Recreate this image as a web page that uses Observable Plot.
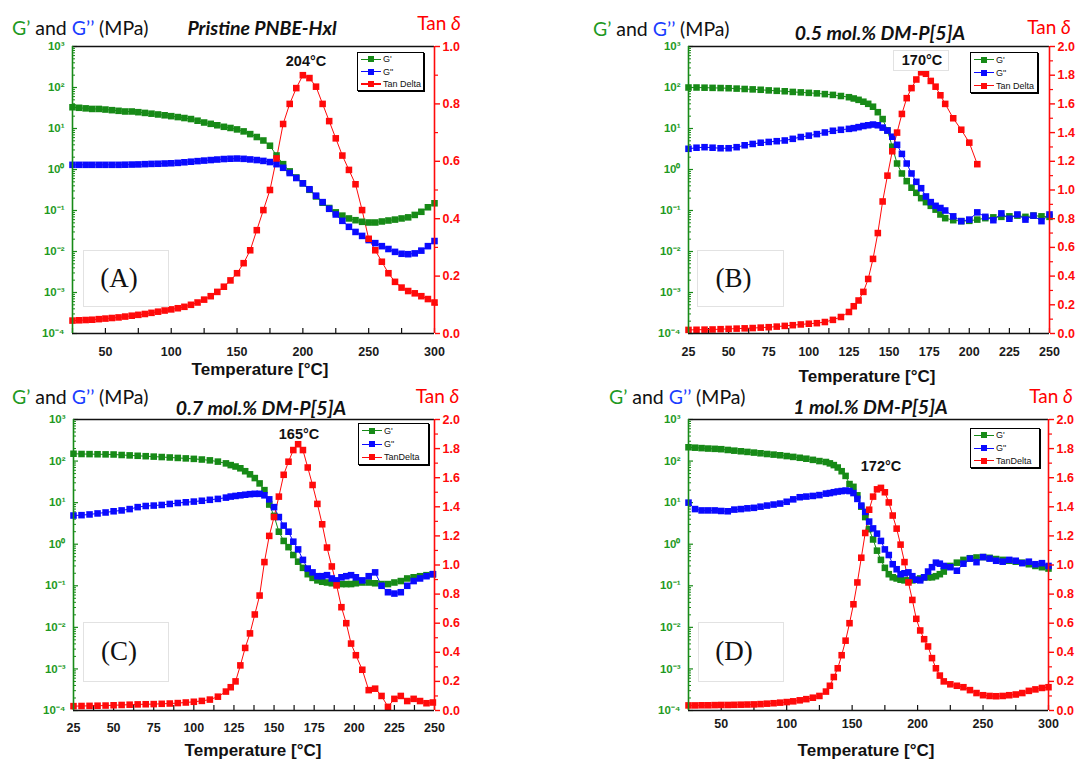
<!DOCTYPE html>
<html><head><meta charset="utf-8">
<script src="https://cdn.jsdelivr.net/npm/d3@7"></script>
<script src="https://cdn.jsdelivr.net/npm/@observablehq/plot@0.6"></script>
<style>
body{margin:0;background:#fff;}
#fig{position:relative;width:1077px;height:761px;overflow:hidden;background:#fff;font-family:"Liberation Sans",Arial,sans-serif;color:#111;}
.abs{position:absolute;white-space:nowrap;line-height:1;}
.hdr{font-family:Lato,"Open Sans",sans-serif;font-size:19.5px;}
.ttl{font-family:Lato,"Open Sans",sans-serif;font-weight:bold;font-style:italic;font-size:19.5px;}
.tan{font-family:Lato,"Open Sans",sans-serif;font-size:19px;color:#ff0000;}
.xl{font-weight:bold;font-size:17px;}
.pk{font-weight:bold;font-size:14.5px;}
.lab{font-family:"Liberation Serif","Times New Roman",serif;font-size:27px;}
.box{position:absolute;border:1px solid #e2e2e2;}
.leg{position:absolute;border:1px solid #000;box-shadow:1px 1px 0 #000;background:#fff;font-size:9px;font-family:"Liberation Sans",Arial,sans-serif;}
</style></head><body><div id="fig"></div>
<script>
// ---------- DATA ----------
// Panel A: Pristine PNBE-Hxl
const A_T = [25,30,35,40,45,50,55,60,65,70,75,80,85,90,95,100,105,110,115,120,125,130,135,140,145,150,155,160,165,170,175,180,185,190,195,200,205,210,215,220,225,230,235,240,245,250,255,260,265,270,275,280,285,290,295,300];
const A_G1 = [33,32,31,30,30,29,28,27,26,26,25,24,23,22,21,20,19,18,17,15.5,14,13,12,11,10.3,9.5,8.5,7.3,6.2,5.1,3.8,2.2,1.35,0.9,0.64,0.46,0.32,0.22,0.155,0.115,0.09,0.075,0.064,0.058,0.053,0.051,0.051,0.054,0.057,0.06,0.064,0.068,0.078,0.093,0.12,0.15];
const A_G2 = [1.3,1.3,1.3,1.3,1.3,1.3,1.3,1.3,1.31,1.32,1.33,1.35,1.37,1.38,1.4,1.42,1.45,1.5,1.55,1.6,1.65,1.7,1.75,1.8,1.83,1.85,1.82,1.76,1.7,1.62,1.52,1.35,1.1,0.82,0.62,0.46,0.33,0.23,0.16,0.11,0.08,0.056,0.04,0.03,0.024,0.019,0.016,0.0135,0.0115,0.0098,0.0088,0.0086,0.009,0.0105,0.0135,0.018];
const A_tan = [0.045,0.046,0.047,0.048,0.05,0.052,0.054,0.056,0.059,0.062,0.065,0.068,0.072,0.076,0.08,0.084,0.088,0.093,0.1,0.108,0.118,0.13,0.145,0.163,0.185,0.21,0.245,0.29,0.36,0.43,0.5,0.61,0.73,0.8,0.855,0.9,0.89,0.86,0.8,0.74,0.68,0.62,0.57,0.52,0.43,0.33,0.29,0.25,0.21,0.18,0.16,0.148,0.14,0.13,0.12,0.108];

// Panel B: 0.5 mol.% DM-P[5]A
const B_T = [25,30,35,40,45,50,55,60,65,70,75,80,85,90,95,100,105,110,115,120,125,128,131,134,137,140,143,146,149,152,155,158,161,164,167,170,173,176,179,182,185,190,195,200,205,210,215,220,225,230,235,240,245,250];
const B_G1 = [100,100,99,98,97,96,94,92,90,88,85,83,81,78,76,74,72,69,66,62,58,54,50,45,40,34,25,17,9,3.6,1.4,0.8,0.52,0.36,0.27,0.2,0.16,0.13,0.105,0.08,0.065,0.058,0.055,0.056,0.06,0.065,0.068,0.07,0.072,0.075,0.07,0.075,0.072,0.07];
const B_G2 = [3.2,3.4,3.5,3.4,3.3,3.3,3.5,3.9,4.2,4.5,4.7,4.9,5.1,5.6,6.2,6.7,7.3,8,8.8,9.3,9.8,10.2,10.8,11.5,12,12.5,12,10.5,8.9,6.3,4,2.4,1.4,0.8,0.5,0.35,0.22,0.16,0.13,0.115,0.1,0.072,0.055,0.06,0.09,0.07,0.058,0.085,0.063,0.08,0.06,0.075,0.055,0.08];
const B_tan = [0.025,0.026,0.027,0.028,0.03,0.032,0.034,0.036,0.038,0.041,0.044,0.048,0.053,0.058,0.063,0.068,0.072,0.08,0.095,0.115,0.15,0.19,0.23,0.29,0.38,0.52,0.7,0.92,1.1,1.27,1.4,1.53,1.64,1.71,1.77,1.82,1.81,1.76,1.72,1.66,1.6,1.5,1.42,1.33,1.18,null,null,null,null,null,null,null,null,null];

// Panel C: 0.7 mol.% DM-P[5]A
const C_T = [25,30,35,40,45,50,55,60,65,70,75,80,85,90,95,100,105,110,115,120,123,126,129,132,135,138,141,144,147,150,153,156,159,162,165,168,171,174,177,180,183,186,189,192,195,198,201,205,209,213,217,221,225,229,233,237,241,245,249];
const C_G1 = [150,148,147,146,145,144,140,137,134,131,128,125,122,119,116,113,109,104,97,88,80,74,67,57,48,39,29,20,9,4.8,2,1.2,0.85,0.55,0.38,0.27,0.19,0.155,0.135,0.125,0.12,0.115,0.11,0.11,0.11,0.11,0.115,0.12,0.12,0.115,0.11,0.11,0.12,0.13,0.15,0.16,0.17,0.18,0.19];
const C_G2 = [4.9,5,5.2,5.5,5.8,6.2,6.5,7,7.8,8.3,8.5,8.8,9.3,9.8,10.2,10.6,11.1,11.7,12.3,13.2,14,14.5,15,15.5,16,16.3,16.3,15,12,7.8,4.5,2.8,2,1.15,0.75,0.42,0.26,0.21,0.17,0.17,0.18,0.15,0.135,0.16,0.17,0.18,0.16,0.135,0.17,0.21,0.1,0.07,0.065,0.07,0.1,0.13,0.15,0.17,0.19];
const C_tan = [0.03,0.031,0.032,0.033,0.034,0.036,0.038,0.04,0.042,0.043,0.044,0.046,0.048,0.051,0.055,0.06,0.066,0.075,0.095,0.13,0.16,0.2,0.31,0.43,0.53,0.66,0.79,1.02,1.2,1.33,1.47,1.62,1.71,1.79,1.83,1.79,1.67,1.55,1.42,1.28,1.12,0.99,0.86,0.71,0.6,0.46,0.38,0.28,0.14,0.15,0.1,0.025,0.08,0.1,0.065,0.08,0.065,0.05,0.055];

// Panel D: 1 mol.% DM-P[5]A
const D_T = [25,30,35,40,45,50,55,60,65,70,75,80,85,90,95,100,105,110,115,120,125,130,133,136,139,142,145,148,151,154,157,160,163,166,169,172,175,178,181,184,187,190,193,196,199,202,205,208,211,214,217,220,225,230,235,240,245,250,255,260,265,270,275,280,285,290,295,300];
const D_G1 = [215,210,205,200,197,193,185,178,172,166,160,154,148,143,138,132,126,120,114,107,100,95,88,80,70,57,44,28,24,15,8,4.5,2.3,1.3,0.7,0.42,0.27,0.19,0.16,0.15,0.14,0.135,0.135,0.135,0.14,0.15,0.16,0.16,0.16,0.17,0.19,0.22,0.3,0.36,0.42,0.46,0.48,0.49,0.47,0.44,0.42,0.4,0.38,0.36,0.33,0.3,0.28,0.26];
const D_G2 = [10,7,6.5,6.5,6.5,6.3,6.2,6.8,7,7.3,7.5,8,8.5,9,9.5,10.5,12,13.5,14,14.5,15.2,16.5,17,17.8,18.5,19,19.5,19,17,12.3,8.5,6,3.5,2.4,1.8,1.2,0.75,0.55,0.33,0.25,0.19,0.2,0.21,0.17,0.14,0.135,0.16,0.22,0.28,0.36,0.34,0.3,0.28,0.23,0.34,0.45,0.37,0.49,0.45,0.4,0.38,0.42,0.4,0.35,0.38,0.33,0.35,0.3];
const D_tan = [0.035,0.035,0.036,0.036,0.037,0.038,0.038,0.039,0.04,0.041,0.042,0.044,0.047,0.05,0.054,0.058,0.063,0.07,0.078,0.088,0.1,0.13,0.17,0.23,0.29,0.38,0.48,0.6,0.73,0.88,1.05,1.22,1.38,1.47,1.52,1.53,1.5,1.43,1.34,1.25,1.14,1.02,0.88,0.76,0.63,0.55,0.49,0.44,0.36,0.29,0.24,0.2,0.18,0.17,0.16,0.14,0.12,0.105,0.1,0.098,0.1,0.105,0.11,0.12,0.135,0.145,0.155,0.16];

// Tick values
const logExponents = [-4,-3,-2,-1,0,1,2,3];
const tanTicks1 = [0,0.2,0.4,0.6,0.8,1.0];
const tanTicks2 = [0,0.2,0.4,0.6,0.8,1.0,1.2,1.4,1.6,1.8,2.0];
const xTicks300 = [50,100,150,200,250,300];
const xTicks250 = [25,50,75,100,125,150,175,200,225,250];

const titles = ["Pristine PNBE-Hxl","0.5 mol.% DM-P[5]A","0.7 mol.% DM-P[5]A","1 mol.% DM-P[5]A"];
const peaks = ["204°C","170°C","165°C","172°C"];
const panelLetters = ["(A)","(B)","(C)","(D)"];
const legendLabels = [["G'","G\"","Tan Delta"],["G'","G\"","Tan Delta"],["G'","G\"","TanDelta"],["G'","G\"","TanDelta"]];

// ---------- STYLE / LAYOUT ----------
const GREEN = "#178a17", GREEN_T = "#1f9a1f", BLUE = "#0a0aff", RED = "#ff0a0a";
const fig = document.getElementById("fig");

const cfg = [
  {T:A_T,g1:A_G1,g2:A_G2,tan:A_tan,xd:[25,300],xl:xTicks300,xstep:25,tmax:1,tt:tanTicks1,
   box:{left:0,top:0,w:540,h:380},m:{l:72,r:106,t:46,b:47},xpad:14,
   hdr:[12,28],ttl:[262,28],tanL:[439,22],xlab:[260,369],pk:[306,61],lab:[83,250,84,55],leg:[357,52,65,37]},
  {T:B_T,g1:B_G1,g2:B_G2,tan:B_tan,xd:[25,250],xl:xTicks250,xstep:12.5,tmax:2,tt:tanTicks2,
   box:{left:540,top:0,w:537,h:380},m:{l:148,r:28,t:46,b:47},xpad:14,
   hdr:[593,28.5],ttl:[880,32.5],tanL:[1049,26],xlab:[867,376],pk:[922,60],lab:[697,250,85,55],leg:[970,52,66,39],pkbox:[893,50,54,19]},
  {T:C_T,g1:C_G1,g2:C_G2,tan:C_tan,xd:[25,250],xl:xTicks250,xstep:12.5,tmax:2,tt:tanTicks2,
   box:{left:0,top:380,w:540,h:381},m:{l:73,r:106,t:39,b:51},xpad:13,
   hdr:[12,396.5],ttl:[261,407.5],tanL:[437.5,394.5],xlab:[253,749.5],pk:[299,434],lab:[83,622,84,58],leg:[358,423,69,40]},
  {T:D_T,g1:D_G1,g2:D_G2,tan:D_tan,xd:[25,300],xl:xTicks300,xstep:25,tmax:2,tt:tanTicks2,
   box:{left:540,top:380,w:537,h:381},m:{l:148,r:29,t:39,b:51},xpad:9,
   hdr:[609,396.5],ttl:[870.5,406.5],tanL:[1051,395],xlab:[866,749.5],pk:[881,466],lab:[698,622,84,58],leg:[970,428,68,38]}
];

const SUP = {"-":"⁻","0":"⁰","1":"¹","2":"²","3":"³","4":"⁴","5":"⁵"};
const supFmt = e => "10" + String(Math.round(e)).split("").map(c => SUP[c]).join("");

function put(html, x, y, cls, anchor) {
  const d = document.createElement("div");
  d.className = "abs " + cls;
  d.innerHTML = html;
  d.style.left = x + "px";
  d.style.top = y + "px";
  const tx = anchor === "l" ? "0" : anchor === "r" ? "-100%" : "-50%";
  d.style.transform = `translate(${tx},-50%)`;
  fig.appendChild(d);
  return d;
}

cfg.forEach((c, i) => {
  // y scale is the decade exponent (log10 of modulus, MPa); tan δ is mapped onto the same span
  const tanToY = v => -4 + 7 * v / c.tmax;
  const yToTan = y => (y + 4) / 7 * c.tmax;
  const rows = c.T.map((t, k) => ({t, g1: Math.log10(c.g1[k]), g2: Math.log10(c.g2[k])}));
  const tanRows = c.T.map((t, k) => ({t, v: c.tan[k]})).filter(d => d.v != null).map(d => ({t: d.t, y: tanToY(d.v)}));
  const pw = c.box.w - c.m.l - c.m.r, ph = c.box.h - c.m.t - c.m.b;
  const minorLog = [];
  for (let e = -4; e < 3; e++) for (let k = 2; k < 10; k++) minorLog.push(e + Math.log10(k));
  const xAll = d3.range(c.xd[0], c.xd[1] + 0.001, c.xstep);
  const tanMinor = d3.range(0.1, c.tmax, 0.2).map(tanToY);
  const R = 3.7;

  const plot = Plot.plot({
    width: c.box.w, height: c.box.h,
    marginLeft: c.m.l, marginRight: c.m.r, marginTop: c.m.t, marginBottom: c.m.b,
    x: {domain: c.xd},
    y: {domain: [-4, 3]},
    style: {background: "transparent", overflow: "visible", fontFamily: "Liberation Sans, Arial, sans-serif"},
    marks: [
      Plot.tickX(xAll, {x: d => d, insetTop: ph - 5, stroke: "#111", strokeWidth: 1.2}),
      Plot.tickY(logExponents, {y: d => d, insetRight: pw - 5, stroke: GREEN, strokeWidth: 1.2}),
      Plot.tickY(minorLog, {y: d => d, insetRight: pw - 3, stroke: GREEN, strokeWidth: 1}),
      Plot.line(rows, {x: "t", y: "g1", stroke: GREEN, strokeWidth: 1}),
      Plot.line(rows, {x: "t", y: "g2", stroke: BLUE, strokeWidth: 1}),
      Plot.line(tanRows, {x: "t", y: "y", stroke: RED, strokeWidth: 1}),
      Plot.dot(rows, {x: "t", y: "g1", symbol: "square", r: R, fill: GREEN, stroke: null}),
      Plot.dot(rows, {x: "t", y: "g2", symbol: "square", r: R, fill: BLUE, stroke: null}),
      Plot.dot(tanRows, {x: "t", y: "y", symbol: "square", r: R, fill: RED, stroke: null}),
      Plot.ruleY([3], {stroke: "#111", strokeWidth: 1.4}),
      Plot.ruleY([-4], {stroke: "#111", strokeWidth: 1.4}),
      Plot.ruleX([c.xd[0]], {stroke: GREEN, strokeWidth: 1.6}),
      Plot.ruleX([c.xd[1]], {stroke: RED, strokeWidth: 1.6}),
      Plot.axisX({ticks: c.xl, tickSize: 0, tickPadding: c.xpad, label: null, fontSize: 12.5, fontWeight: "bold", color: "#1a1a1a"}),
      Plot.axisY({anchor: "left", ticks: logExponents, tickSize: 0, tickPadding: 8, tickFormat: supFmt, label: null, fontSize: 11.5, fontWeight: "bold", color: GREEN_T}),
      Plot.axisY({anchor: "right", ticks: c.tt.map(tanToY), tickSize: 5, tickPadding: 3, tickFormat: y => yToTan(y).toFixed(1), label: null, fontSize: 12.5, fontWeight: "bold", color: RED, strokeWidth: 1.4}),
      Plot.axisY({anchor: "right", ticks: tanMinor, tickSize: 3, stroke: RED, fill: "none", label: null, strokeWidth: 1.2})
    ]
  });
  plot.style.position = "absolute";
  plot.style.left = c.box.left + "px";
  plot.style.top = c.box.top + "px";
  fig.appendChild(plot);

  // texts
  put(`<span style="color:${GREEN_T}">G’</span> and <span style="color:#1a3cff">G’’</span> (MPa)`, c.hdr[0], c.hdr[1], "hdr", "l");
  put(titles[i], c.ttl[0], c.ttl[1], "ttl", "m");
  put(`Tan <i>δ</i>`, c.tanL[0], c.tanL[1], "tan", "m");
  put("Temperature [°C]", c.xlab[0], c.xlab[1], "xl", "m");
  if (c.pkbox) {
    const b = document.createElement("div"); b.className = "box";
    Object.assign(b.style, {left: c.pkbox[0] + "px", top: c.pkbox[1] + "px", width: c.pkbox[2] + "px", height: c.pkbox[3] + "px", background: "#fff"});
    fig.appendChild(b);
  }
  put(peaks[i], c.pk[0], c.pk[1], "pk", "m");

  // panel letter box
  const lb = document.createElement("div"); lb.className = "box";
  Object.assign(lb.style, {left: c.lab[0] + "px", top: c.lab[1] + "px", width: c.lab[2] + "px", height: c.lab[3] + "px"});
  fig.appendChild(lb);
  put(panelLetters[i], c.lab[0] + c.lab[2] / 2 - 6, c.lab[1] + c.lab[3] / 2, "lab", "m");

  // legend
  const lg = document.createElement("div"); lg.className = "leg";
  Object.assign(lg.style, {left: c.leg[0] + "px", top: c.leg[1] + "px", width: c.leg[2] + "px", height: c.leg[3] + "px"});
  const cols = [GREEN, BLUE, RED];
  const step = c.leg[3] / 3;
  legendLabels[i].forEach((t, k) => {
    const cy = step * k + step / 2;
    const ln = document.createElement("div");
    Object.assign(ln.style, {position: "absolute", left: "3px", top: (cy - 0.5) + "px", width: "20px", height: "1.3px", background: cols[k]});
    const sq = document.createElement("div");
    Object.assign(sq.style, {position: "absolute", left: "10px", top: (cy - 3) + "px", width: "6px", height: "6px", background: cols[k]});
    const tx = document.createElement("div");
    tx.textContent = t;
    Object.assign(tx.style, {position: "absolute", left: "25px", top: cy + "px", transform: "translateY(-50%)", lineHeight: "1", whiteSpace: "nowrap"});
    lg.append(ln, sq, tx);
  });
  fig.appendChild(lg);
});
</script></body></html>
